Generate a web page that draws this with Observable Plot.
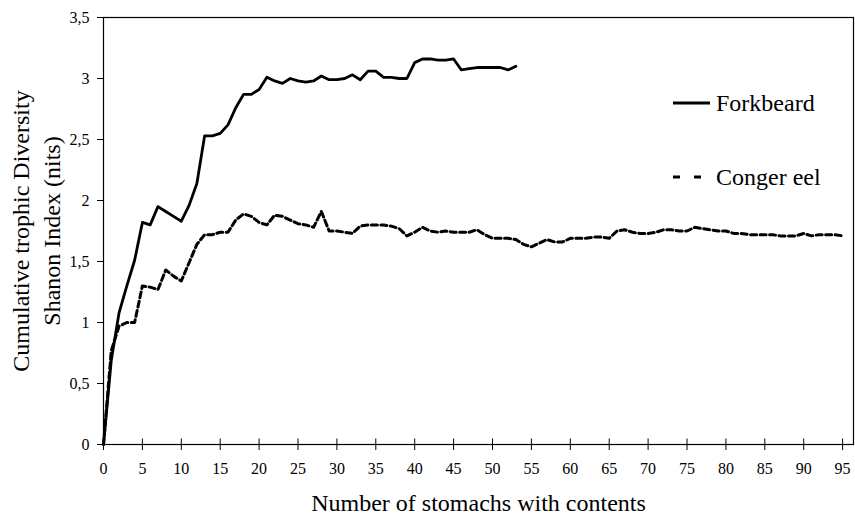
<!DOCTYPE html>
<html>
<head>
<meta charset="utf-8">
<script src="https://cdn.jsdelivr.net/npm/d3@7"></script>
<script src="https://cdn.jsdelivr.net/npm/@observablehq/plot@0.6"></script>
<style>
  html, body { margin: 0; padding: 0; background: #fff; }
  #chart { position: relative; width: 855px; height: 515px; }
  #chart svg text { font-family: "Liberation Serif", "Times New Roman", serif; }
</style>
</head>
<body>
<div id="chart"></div>
<script>
// Data
const forkbeardX = d3.range(0, 54);
const forkbeardY = [0, 0.69, 1.08, 1.30, 1.51, 1.82, 1.80, 1.95, 1.91, 1.87,
  1.83, 1.96, 2.14, 2.53, 2.53, 2.55, 2.62, 2.76, 2.87, 2.87,
  2.91, 3.01, 2.98, 2.96, 3.00, 2.98, 2.97, 2.98, 3.02, 2.99,
  2.99, 3.00, 3.03, 2.99, 3.06, 3.06, 3.01, 3.01, 3.00, 3.00,
  3.13, 3.16, 3.16, 3.15, 3.15, 3.16, 3.07, 3.08, 3.09, 3.09,
  3.09, 3.09, 3.07, 3.10];
const congerX = d3.range(0, 96);
const congerY = [0, 0.77, 0.97, 1.00, 1.00, 1.30, 1.29, 1.27, 1.43, 1.38,
  1.34, 1.49, 1.64, 1.72, 1.72, 1.74, 1.74, 1.84, 1.89, 1.87,
  1.82, 1.80, 1.88, 1.87, 1.84, 1.81, 1.80, 1.78, 1.91, 1.75,
  1.75, 1.74, 1.73, 1.79, 1.80, 1.80, 1.80, 1.79, 1.77, 1.71,
  1.74, 1.78, 1.75, 1.74, 1.75, 1.74, 1.74, 1.74, 1.76, 1.72,
  1.69, 1.69, 1.69, 1.68, 1.64, 1.62, 1.65, 1.68, 1.66, 1.66,
  1.69, 1.69, 1.69, 1.70, 1.70, 1.69, 1.75, 1.76, 1.74, 1.73,
  1.73, 1.74, 1.76, 1.76, 1.75, 1.75, 1.78, 1.77, 1.76, 1.75,
  1.75, 1.73, 1.73, 1.72, 1.72, 1.72, 1.72, 1.71, 1.71, 1.71,
  1.73, 1.71, 1.72, 1.72, 1.72, 1.71];
const xTicks = d3.range(0, 96, 5);
const yTicks = d3.range(0, 3.51, 0.5);
const seriesNames = ["Forkbeard", "Conger eel"];
const xTitle = "Number of stomachs with contents";
const yTitle1 = "Cumulative trophic Diversity";
const yTitle2 = "Shanon Index (nits)";

const forkbeard = forkbeardX.map((x, i) => ({x, y: forkbeardY[i]}));
const conger = congerX.map((x, i) => ({x, y: congerY[i]}));
const fmt = v => String(v).replace(".", ",");

const plot = Plot.plot({
  width: 855,
  height: 515,
  marginLeft: 103,
  marginTop: 17,
  marginRight: 2,
  marginBottom: 71,
  style: { fontSize: "16px", background: "#fff", color: "#000" },
  x: { domain: [0, 96.4] },
  y: { domain: [0, 3.5] },
  marks: [
    Plot.frame({ stroke: "#000", strokeWidth: 1.2 }),
    Plot.axisX({ ticks: xTicks, tickSize: 6, tickFormat: d => d, label: null, tickPadding: 12, fontSize: 16 }),
    Plot.ruleX(xTicks, { x: d => d, y1: 0, y2: 0.045, stroke: "#000" }),
    Plot.axisY({ ticks: yTicks, tickSize: 6, tickFormat: fmt, label: null, tickPadding: 8, fontSize: 16 }),
    Plot.line(conger, { x: "x", y: "y", stroke: "#000", strokeWidth: 3, strokeDasharray: "6,3.5", strokeLinejoin: "round" }),
    Plot.line(forkbeard, { x: "x", y: "y", stroke: "#000", strokeWidth: 2.8, strokeLinejoin: "round" }),
    Plot.text([xTitle], { frameAnchor: "bottom", dy: 59, fontSize: 24, lineAnchor: "middle", textAnchor: "middle" }),
    Plot.text([yTitle1], { frameAnchor: "left", rotate: -90, dx: -82, fontSize: 24, textAnchor: "middle", lineAnchor: "middle" }),
    Plot.text([yTitle2], { frameAnchor: "left", rotate: -90, dx: -51, fontSize: 24, textAnchor: "middle", lineAnchor: "middle" })
  ]
});
document.getElementById("chart").appendChild(plot);

// Legend, drawn into the plot's SVG
const svg = d3.select(plot);
const lg = svg.append("g").attr("font-size", 24).attr("fill", "#000").attr("text-anchor", "start");
const legendItems = [
  { name: seriesNames[0], dash: null, y: 103 },
  { name: seriesNames[1], dash: "7,14", y: 177 }
];
legendItems.forEach(it => {
  lg.append("line").attr("x1", 673).attr("x2", 710).attr("y1", it.y).attr("y2", it.y)
    .attr("stroke", "#000").attr("stroke-width", 3.2).attr("stroke-dasharray", it.dash);
  lg.append("text").attr("x", 716).attr("y", it.y + 8).attr("text-anchor", "start").text(it.name)
    .style("font-family", '"Liberation Serif", "Times New Roman", serif');
});
</script>
</body>
</html>
